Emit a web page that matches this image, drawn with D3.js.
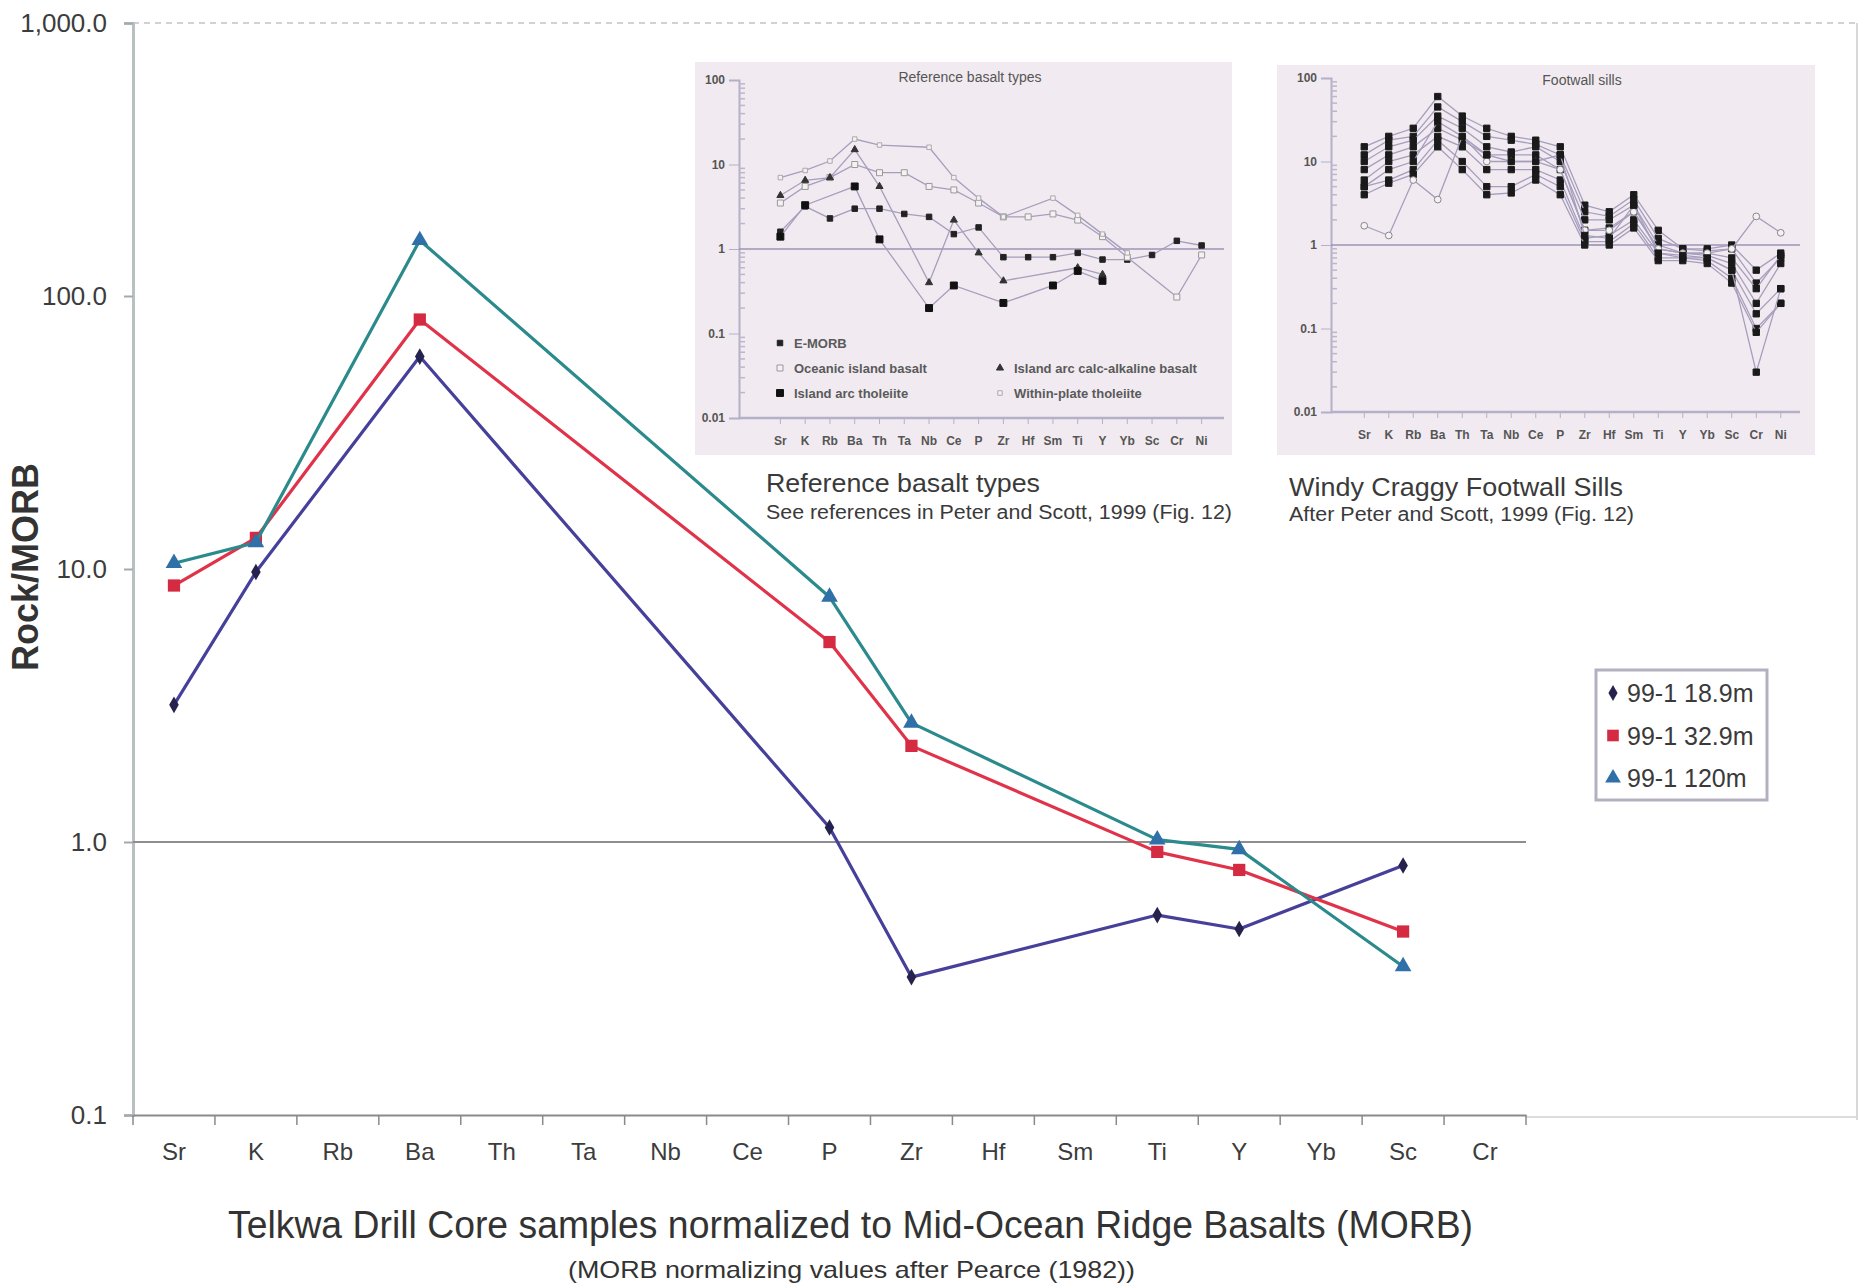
<!DOCTYPE html>
<html>
<head>
<meta charset="utf-8">
<script src="https://cdn.jsdelivr.net/npm/d3@7"></script>
<style>
  body { margin: 0; background: #fff; }
  svg { display: block; }
  text { font-family: "Liberation Sans", Arial, sans-serif; }
</style>
</head>
<body>
<svg id="chart" width="1863" height="1286"></svg>
<script>
// main chart data (Rock/MORB)
const elements = ["Sr","K","Rb","Ba","Th","Ta","Nb","Ce","P","Zr","Hf","Sm","Ti","Y","Yb","Sc","Cr"];
const s189 = [3.18, 9.75, null, 60, null, null, null, null, 1.13, 0.32, null, null, 0.54, 0.48, null, 0.82, null];
const s329 = [8.7, 13.0, null, 82, null, null, null, null, 5.4, 2.25, null, null, 0.92, 0.79, null, 0.47, null];
const s120 = [10.5, 12.5, null, 160, null, null, null, null, 7.9, 2.73, null, null, 1.02, 0.94, null, 0.35, null];
const seriesNames = ["99-1 18.9m", "99-1 32.9m", "99-1 120m"];
const yTicks = [0.1, 1, 10, 100, 1000];
const yTickLabels = ["0.1", "1.0", "10.0", "100.0", "1,000.0"];

// inset charts (after Peter and Scott)
const insetElements = ["Sr","K","Rb","Ba","Th","Ta","Nb","Ce","P","Zr","Hf","Sm","Ti","Y","Yb","Sc","Cr","Ni"];
const insetTicks = [0.01, 0.1, 1, 10, 100];
const insetTickLabels = ["0.01", "0.1", "1", "10", "100"];
const eMorb = [1.6, 3.2, 2.3, 3.0, 3.0, 2.6, 2.4, 1.5, 1.8, 0.8, 0.8, 0.8, 0.9, 0.75, 0.75, 0.85, 1.25, 1.1];
const oceanicIsland = [3.5, 5.5, 7, 10, 8, 8, 5.5, 5, 3.5, 2.4, 2.4, 2.6, 2.2, 1.4, 0.8, null, 0.27, 0.85];
const withinPlate = [7, 8.5, 11, 20, 17, null, 16, 7, 4, 2.4, null, 4, 2.5, 1.5, 0.9, null, null, null];
const arcCalcAlkaline = [4.3, 6.5, 7, 15, 5.5, null, 0.4, 2.2, 0.9, 0.42, null, null, 0.6, 0.5, null, null, null, null];
const arcTholeiite = [1.4, 3.3, null, 5.5, 1.3, null, 0.2, 0.37, null, 0.23, null, 0.37, 0.55, 0.42, null, null, null, null];
const sill1 = [15, 20, 25, 60, 35, 25, 20, 18, 15, 3.0, 2.5, 4.0, 1.5, 0.9, 0.9, 1.0, 0.5, 0.8];
const sill2 = [12, 18, 20, 45, 30, 20, 18, 16, 12, 2.5, 2.2, 3.5, 1.2, 0.9, 0.85, 0.9, 0.35, 0.7];
const sill3 = [10, 15, 18, 35, 25, 15, 13, 15, 10, 2.0, 2.0, 3.0, 1.0, 0.8, 0.8, 0.7, 0.3, 0.75];
const sill4 = [8, 12, 15, 25, 18, 12, 12, 12, 8, 1.5, 1.6, 2.5, 0.9, 0.8, 0.75, 0.6, 0.2, 0.6];
const sill5 = [6, 10, 12, 20, 15, 8, 8, 8, 6, 1.2, 1.3, 2.0, 0.8, 0.7, 0.7, 0.5, 0.15, 0.3];
const sill6 = [5, 6, 8, 18, 10, 5, 5, 7, 5, 1.1, 1.1, 1.8, 0.7, 0.7, 0.65, 0.4, 0.1, 0.2];
const sill7 = [4, 5.5, 7, 15, 8, 4, 4.2, 6, 4, 1.0, 1.0, 1.6, 0.65, 0.65, 0.6, 0.35, 0.09, 0.2];
const sill8 = [1.7, 1.3, 6, 3.5, 20, 10, 10, 10, 8, 1.5, 1.5, 2.5, 0.9, 0.8, 0.8, 0.9, 2.2, 1.4];
const sill9 = [5, 8, 10, 30, 20, 12, 10, 10, 12, 1.3, 1.2, 3.0, 0.8, 0.75, 0.7, 0.5, 0.03, 0.3];

const svg = d3.select("#chart");
svg.append("rect").attr("width", 1863).attr("height", 1286).attr("fill", "#fff");

const x = d3.scaleBand().domain(elements).range([133, 1526]);
const y = d3.scaleLog().domain([0.1, 1000]).range([1115, 23]);

// plot area frame (faint, like the scanned Excel chart)
svg.append("line").attr("x1", 133).attr("x2", 1857).attr("y1", 23).attr("y2", 23)
  .attr("stroke", "#d6d0d6").attr("stroke-width", 2).attr("stroke-dasharray", "6,5");
svg.append("line").attr("x1", 1857).attr("x2", 1857).attr("y1", 23).attr("y2", 1120)
  .attr("stroke", "#d8d8d8").attr("stroke-width", 2);
svg.append("line").attr("x1", 1526).attr("x2", 1857).attr("y1", 1117).attr("y2", 1117)
  .attr("stroke", "#dcdcdc").attr("stroke-width", 2);

// ---------- inset charts ----------
function drawInset(cfg) {
  const g = svg.append("g");
  g.append("rect").attr("x", cfg.box[0]).attr("y", cfg.box[1])
    .attr("width", cfg.box[2] - cfg.box[0]).attr("height", cfg.box[3] - cfg.box[1])
    .attr("fill", "#f1ebf1");
  const iy = d3.scaleLog().domain([0.01, 100]).range(cfg.yRange);
  const ix = d3.scaleBand().domain(insetElements).range(cfg.xRange);
  const cx = d => ix(d) + ix.bandwidth() / 2;

  const ax = g.append("g").attr("transform", `translate(${cfg.axisX},0)`)
    .call(d3.axisLeft(iy).tickValues(insetTicks).tickFormat((d, i) => insetTickLabels[i]).tickSize(10).tickPadding(4));
  ax.select(".domain").attr("stroke", "#b4b0c8").attr("stroke-width", 2);
  ax.selectAll(".tick line").attr("stroke", "#b4b0c8");
  ax.selectAll(".tick text").attr("font-size", 12).attr("font-weight", "bold").attr("fill", "#555");
  g.selectAll(".minor").data(iy.ticks().filter(t => !insetTicks.includes(t)))
    .join("line").attr("x1", cfg.axisX).attr("x2", cfg.axisX + 6)
    .attr("y1", d => iy(d)).attr("y2", d => iy(d)).attr("stroke", "#bbb6cc").attr("stroke-width", 1.5);

  g.append("line").attr("x1", cfg.axisX).attr("x2", cfg.lineEnd).attr("y1", iy(0.01)).attr("y2", iy(0.01))
    .attr("stroke", "#b4b0c8").attr("stroke-width", 2.5);
  g.append("line").attr("x1", cfg.axisX).attr("x2", cfg.lineEnd).attr("y1", iy(1)).attr("y2", iy(1))
    .attr("stroke", "#9c94b4").attr("stroke-width", 1.5);
  g.selectAll(".xt").data(insetElements).join("line")
    .attr("x1", d => cx(d)).attr("x2", d => cx(d)).attr("y1", iy(0.01)).attr("y2", iy(0.01) + 6)
    .attr("stroke", "#b4b0c8");
  g.selectAll(".xl").data(insetElements).join("text")
    .attr("x", d => cx(d)).attr("y", iy(0.01) + 27).attr("text-anchor", "middle")
    .attr("font-size", 12).attr("font-weight", "bold").attr("fill", "#555").text(d => d);
  g.append("text").attr("x", cfg.titleX).attr("y", cfg.box[1] + 20).attr("text-anchor", "middle")
    .attr("font-size", 14).attr("fill", "#555").text(cfg.title);

  const line = d3.line().x(d => cx(d.k)).y(d => iy(d.v));
  cfg.series.forEach(s => {
    const pts = s.values.map((v, i) => ({ k: insetElements[i], v })).filter(d => d.v != null);
    g.append("path").datum(pts).attr("fill", "none").attr("stroke", "#a69ebc")
      .attr("stroke-width", 1.3).attr("d", line);
    g.selectAll(null).data(pts).join("path")
      .attr("transform", d => `translate(${cx(d.k)},${iy(d.v)})`)
      .attr("d", d3.symbol().type(s.symbol).size(s.size))
      .attr("fill", s.fill).attr("stroke", s.stroke).attr("stroke-width", 1);
  });

  if (cfg.legend) {
    cfg.legend.forEach(l => {
      g.append("path").attr("transform", `translate(${l.x},${l.y})`)
        .attr("d", d3.symbol().type(l.s.symbol).size(l.s.size))
        .attr("fill", l.s.fill).attr("stroke", l.s.stroke);
      g.append("text").attr("x", l.x + 14).attr("y", l.y + 5).attr("font-size", 13)
        .attr("font-weight", "bold").attr("fill", "#5a5a5a").text(l.s.name);
    });
  }
}

const refSeries = [
  { name: "E-MORB", values: eMorb, symbol: d3.symbolSquare, size: 30, fill: "#222", stroke: "#222" },
  { name: "Oceanic island basalt", values: oceanicIsland, symbol: d3.symbolSquare, size: 36, fill: "#f4f0f4", stroke: "#999" },
  { name: "Within-plate tholeiite", values: withinPlate, symbol: d3.symbolSquare, size: 20, fill: "#f4f0f4", stroke: "#aaa" },
  { name: "Island arc calc-alkaline basalt", values: arcCalcAlkaline, symbol: d3.symbolTriangle, size: 22, fill: "#333", stroke: "#333" },
  { name: "Island arc tholeiite", values: arcTholeiite, symbol: d3.symbolSquare, size: 48, fill: "#111", stroke: "#111" }
];
drawInset({
  box: [695, 62, 1232, 455], yRange: [418, 80], xRange: [768, 1214], axisX: 739, lineEnd: 1224,
  title: "Reference basalt types", titleX: 970, series: refSeries,
  legend: [
    { s: refSeries[0], x: 780, y: 343 },
    { s: refSeries[1], x: 780, y: 368 },
    { s: refSeries[4], x: 780, y: 393 },
    { s: refSeries[3], x: 1000, y: 368 },
    { s: refSeries[2], x: 1000, y: 393 }
  ]
});

const sillValues = [sill1, sill2, sill3, sill4, sill5, sill6, sill7, sill8, sill9];
drawInset({
  box: [1277, 65, 1815, 455], yRange: [412, 78], xRange: [1352, 1793], axisX: 1331, lineEnd: 1800,
  title: "Footwall sills", titleX: 1582,
  series: sillValues.map((v, i) => ({
    values: v, symbol: i === 7 ? d3.symbolCircle : d3.symbolSquare, size: i === 7 ? 36 : 40,
    fill: i === 7 ? "#f4f0f4" : "#1a1a1a", stroke: i === 7 ? "#888" : "#1a1a1a"
  }))
});

// inset captions
svg.append("text").attr("x", 766).attr("y", 492).attr("font-size", 26).attr("fill", "#3a3a3a")
  .attr("textLength", 274).attr("lengthAdjust", "spacingAndGlyphs").text("Reference basalt types");
svg.append("text").attr("x", 766).attr("y", 519).attr("font-size", 20).attr("fill", "#3a3a3a")
  .attr("textLength", 466).attr("lengthAdjust", "spacingAndGlyphs").text("See references in Peter and Scott, 1999 (Fig. 12)");
svg.append("text").attr("x", 1289).attr("y", 496).attr("font-size", 26).attr("fill", "#3a3a3a")
  .attr("textLength", 334).attr("lengthAdjust", "spacingAndGlyphs").text("Windy Craggy Footwall Sills");
svg.append("text").attr("x", 1289).attr("y", 521).attr("font-size", 20).attr("fill", "#3a3a3a")
  .attr("textLength", 345).attr("lengthAdjust", "spacingAndGlyphs").text("After Peter and Scott, 1999 (Fig. 12)");

// ---------- main axes ----------
const yAxis = svg.append("g").attr("transform", "translate(133,0)")
  .call(d3.axisLeft(y).tickValues(yTicks).tickFormat((d, i) => yTickLabels[i]).tickSize(9).tickPadding(17));
yAxis.select(".domain").attr("stroke", "#b8c0c0").attr("stroke-width", 3);
yAxis.selectAll(".tick line").attr("stroke", "#a0aab0").attr("stroke-width", 2);
yAxis.selectAll(".tick text").attr("font-size", 26).attr("fill", "#3c3c3c");

svg.append("line").attr("x1", 133).attr("x2", 1526).attr("y1", y(1)).attr("y2", y(1))
  .attr("stroke", "#8e8e8e").attr("stroke-width", 2);

const xAxis = svg.append("g").attr("transform", `translate(0,${y(0.1)})`)
  .call(d3.axisBottom(x).tickSize(0).tickPadding(28));
xAxis.select(".domain").attr("stroke", "#8a8a8a").attr("stroke-width", 2);
xAxis.selectAll(".tick text").attr("font-size", 24).attr("fill", "#3c3c3c");
svg.selectAll(".xb").data(elements.concat(["end"])).join("line")
  .attr("x1", d => d === "end" ? x.range()[1] : x(d)).attr("x2", d => d === "end" ? x.range()[1] : x(d))
  .attr("y1", y(0.1)).attr("y2", y(0.1) + 10).attr("stroke", "#8a8a8a").attr("stroke-width", 1.5);

svg.append("text").attr("transform", "translate(38,567) rotate(-90)").attr("text-anchor", "middle")
  .attr("font-size", 36).attr("font-weight", "bold").attr("fill", "#333").text("Rock/MORB");
svg.append("text").attr("x", 228).attr("y", 1238).attr("font-size", 38).attr("fill", "#333")
  .attr("textLength", 1245).attr("lengthAdjust", "spacingAndGlyphs")
  .text("Telkwa Drill Core samples normalized to Mid-Ocean Ridge Basalts (MORB)");
svg.append("text").attr("x", 568).attr("y", 1278).attr("font-size", 24).attr("fill", "#333")
  .attr("textLength", 567).attr("lengthAdjust", "spacingAndGlyphs")
  .text("(MORB normalizing values after Pearce (1982))");

// ---------- main series ----------
const mainSeries = [
  { values: s189, line: "#46409a", marker: "#26224e", symbol: d3.symbolDiamond, size: 80 },
  { values: s329, line: "#e0334a", marker: "#d42a42", symbol: d3.symbolSquare, size: 150 },
  { values: s120, line: "#2b8a8c", marker: "#3070a8", symbol: d3.symbolTriangle, size: 120 }
];
const px = d => x(d) + x.bandwidth() / 2;
const mainLine = d3.line().x(d => px(d.k)).y(d => y(d.v));
mainSeries.forEach(s => {
  const pts = s.values.map((v, i) => ({ k: elements[i], v })).filter(d => d.v != null);
  svg.append("path").datum(pts).attr("fill", "none").attr("stroke", s.line)
    .attr("stroke-width", 3.2).attr("stroke-linejoin", "round").attr("d", mainLine);
  svg.selectAll(null).data(pts).join("path")
    .attr("transform", d => `translate(${px(d.k)},${y(d.v)})`)
    .attr("d", d3.symbol().type(s.symbol).size(s.size)).attr("fill", s.marker);
});

// ---------- legend ----------
const legend = svg.append("g").attr("transform", "translate(1596,670)");
legend.append("rect").attr("width", 171).attr("height", 130).attr("fill", "#fff")
  .attr("stroke", "#b4b0c0").attr("stroke-width", 3);
mainSeries.forEach((s, i) => {
  const ly = 23 + i * 42.5;
  legend.append("path").attr("transform", `translate(17,${ly})`)
    .attr("d", d3.symbol().type(s.symbol).size(s.size * 0.9)).attr("fill", s.marker);
  legend.append("text").attr("x", 31).attr("y", ly + 9).attr("font-size", 25).attr("fill", "#3a3a3a")
    .text(seriesNames[i]);
});
</script>
</body>
</html>
